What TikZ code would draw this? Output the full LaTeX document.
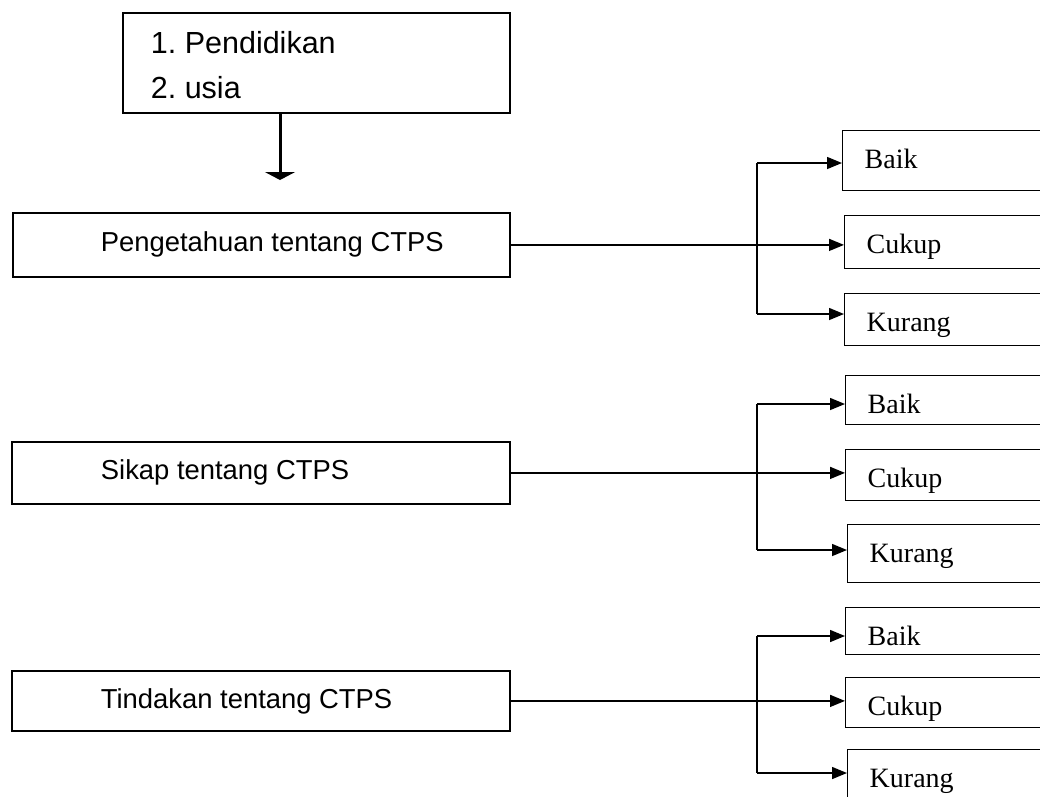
\documentclass[tikz,border=0pt]{standalone}
\usepackage{fontspec}
\setmainfont{Liberation Serif}
\newfontfamily\arialfont{Liberation Sans}
\usetikzlibrary{arrows.meta}
\frenchspacing
\begin{document}
\begin{tikzpicture}[x=1pt,y=-1pt,
  topbox/.style={draw, line width=1.8pt, anchor=north west, inner sep=0pt, align=left,
    font=\arialfont\fontsize{30.5}{45}\selectfont},
  mainbox/.style={draw, line width=1.8pt, anchor=north west, inner sep=0pt,
    minimum width=497pt, font=\arialfont\fontsize{27.4}{33}\selectfont},
  smallbox/.style={draw, line width=1.4pt, anchor=north west, inner ysep=0pt, inner xsep=22pt,
    text height=38pt, text width=180pt, align=left, font=\fontsize{28}{34}\selectfont},
  conn/.style={line width=1.5pt},
  arr/.style={line width=1.5pt, -{Triangle[length=15pt,width=12pt]}},
  bigarr/.style={line width=3pt, -{Triangle[length=8pt,width=30pt]}}
]
\useasboundingbox (0,0) rectangle (1040,796);
\clip (0,0) rectangle (1040,796);

% top box
\node[topbox, minimum width=387pt, minimum height=100pt] (top) at (122,12)
  {\makebox[387pt][l]{\hspace{28pt}\rule{0pt}{27pt}1. Pendidikan}\\\makebox[387pt][l]{\hspace{28pt}2. usia}};
\coordinate (ta) at (280,180);
\draw[bigarr] (top.south -| ta) -- (ta);

% main boxes
\node[mainbox, minimum height=64pt] (p) at (12,212)
  {\makebox[497pt][l]{\hspace{88pt}Pengetahuan tentang CTPS}};
\node[mainbox, minimum height=62pt] (s) at (11,441)
  {\makebox[498pt][l]{\hspace{89pt}Sikap tentang CTPS}};
\node[mainbox, minimum height=60pt] (t) at (11,670)
  {\makebox[498pt][l]{\hspace{89pt}Tindakan tentang CTPS}};

% group 1
\node[smallbox, text depth=22pt] (pb) at (842,130) {Baik};
\node[smallbox, text depth=15pt] (pc) at (844,215) {Cukup};
\node[smallbox, text depth=14pt] (pk) at (844,293) {Kurang};
% group 2
\node[smallbox, text depth=11pt] (sb) at (845,375) {Baik};
\node[smallbox, text depth=13pt] (sc) at (845,449) {Cukup};
\node[smallbox, text depth=20pt] (sk) at (847,524) {Kurang};
% group 3
\node[smallbox, text depth=9pt] (tb) at (845,607) {Baik};
\node[smallbox, text depth=12pt] (tc) at (845,677) {Cukup};
\node[smallbox, text depth=22pt] (tk) at (847,749) {Kurang};

% connectors group 1
\coordinate (p1) at (757,163);
\coordinate (p2) at (757,314);
\draw[conn] (p1) -- (p2);
\draw[arr] (p1) -- (p1 -| pb.west);
\draw[arr] (p2) -- (p2 -| pk.west);
\draw[arr] (p.east) -- (p.east -| pc.west);

% connectors group 2
\coordinate (s1) at (757,404);
\coordinate (s2) at (757,550);
\draw[conn] (s1) -- (s2);
\draw[arr] (s1) -- (s1 -| sb.west);
\draw[arr] (s2) -- (s2 -| sk.west);
\draw[arr] (s.east) -- (s.east -| sc.west);

% connectors group 3
\coordinate (t1) at (757,636);
\coordinate (t2) at (757,773);
\draw[conn] (t1) -- (t2);
\draw[arr] (t1) -- (t1 -| tb.west);
\draw[arr] (t2) -- (t2 -| tk.west);
\draw[arr] (t.east) -- (t.east -| tc.west);
\end{tikzpicture}
\end{document}
